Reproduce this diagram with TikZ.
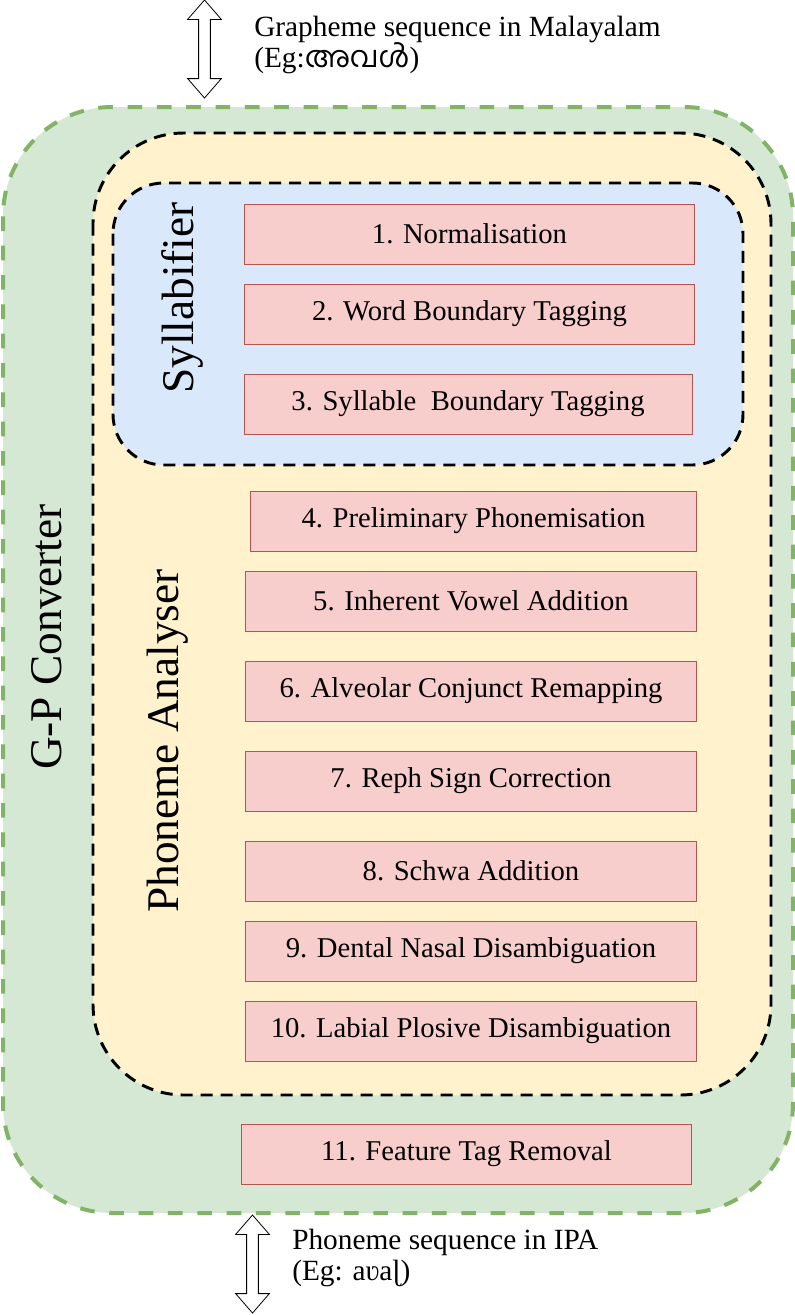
\documentclass[tikz,border=0pt]{standalone}
\usepackage{fontspec}
\setmainfont{Liberation Serif}
\newfontfamily\malfont[Script=Malayalam]{Hind Kochi}
\usetikzlibrary{shapes.arrows}

\definecolor{gpgreen}{HTML}{D5E8D4}
\definecolor{gpline}{HTML}{82B366}
\definecolor{payellow}{HTML}{FFF2CC}
\definecolor{syblue}{HTML}{DAE8FC}
\definecolor{stagepink}{HTML}{F8CECC}
\definecolor{stageline}{HTML}{B85450}

\begin{document}
\begin{tikzpicture}[x=0.75pt,y=-0.75pt]
        \tikzstyle{stage}=[draw=stageline,fill=stagepink,line width=0.6pt,minimum width=338pt,minimum height=45pt,inner sep=0pt,font=\fontsize{21.5}{24}\selectfont]
        \tikzstyle{region}=[draw=black,line width=2.2pt,dash pattern=on 9pt off 6pt]
        \tikzstyle{biglabel}=[rotate=90,inner sep=0pt,font=\fontsize{34}{40}\selectfont]
        \tikzstyle{io}=[double arrow,draw,fill=white,line width=0.6pt,rotate=90,minimum height=73.5pt,inner sep=4.1pt,double arrow head extend=8.25pt,double arrow tip angle=82]
        \tikzstyle{iotext}=[anchor=north west,align=left,inner sep=0pt,font=\fontsize{22}{23.5}\selectfont]

        \useasboundingbox (0,0) rectangle (795,1315);

        % containers
        \draw[fill=gpgreen,draw=gpline,line width=3pt,dash pattern=on 11pt off 11pt,rounded corners=82pt]
             (3,107) rectangle (793,1213);
        \draw[region,fill=payellow,rounded corners=68pt] (93,133) rectangle (771,1095);
        \draw[region,fill=syblue,rounded corners=38pt]   (113,183) rectangle (743,465);

        \node[biglabel] (GP)  at (47,637)  {G-P Converter};
        \node[biglabel] (PA)  at (168,741) {Phoneme Analyser};
        \node[biglabel] (SY)  at (182,298) {Syllabifier};

        % stages
        \node[stage]                     (S01) at (469.5,234)  {1. Normalisation};
        \node[stage]                     (S02) at (469.5,314)  {2. Word Boundary Tagging};
        \node[stage,minimum width=336pt] (S03) at (468,404)    {3. Syllable\ \ Boundary Tagging};
        \node[stage,minimum width=334pt] (S04) at (473.5,521)  {4. Preliminary Phonemisation};
        \node[stage]                     (S05) at (471,601)    {5. Inherent Vowel Addition};
        \node[stage]                     (S06) at (471,691)    {6. Alveolar Conjunct Remapping};
        \node[stage]                     (S07) at (471,781)    {7. Reph Sign Correction};
        \node[stage]                     (S08) at (471,871)    {8. Schwa Addition};
        \node[stage]                     (S09) at (471,951)    {9. Dental Nasal Disambiguation};
        \node[stage]                     (S10) at (471,1031)   {10. Labial Plosive Disambiguation};
        \node[stage]                     (S11) at (466.5,1154) {11. Feature Tag Removal};

        % input / output
        \node[io] (IN)  at (204.5,49)   {};
        \node[io] (OUT) at (252.5,1264) {};
        \node[iotext] (INT)  at (254,16)   {Grapheme sequence in Malayalam\\(Eg:{\malfont അവൾ})};
        \node[iotext] (OUTT) at (292,1229) {Phoneme sequence in IPA\\(Eg: aʋaɭ)};
\end{tikzpicture}
\end{document}
